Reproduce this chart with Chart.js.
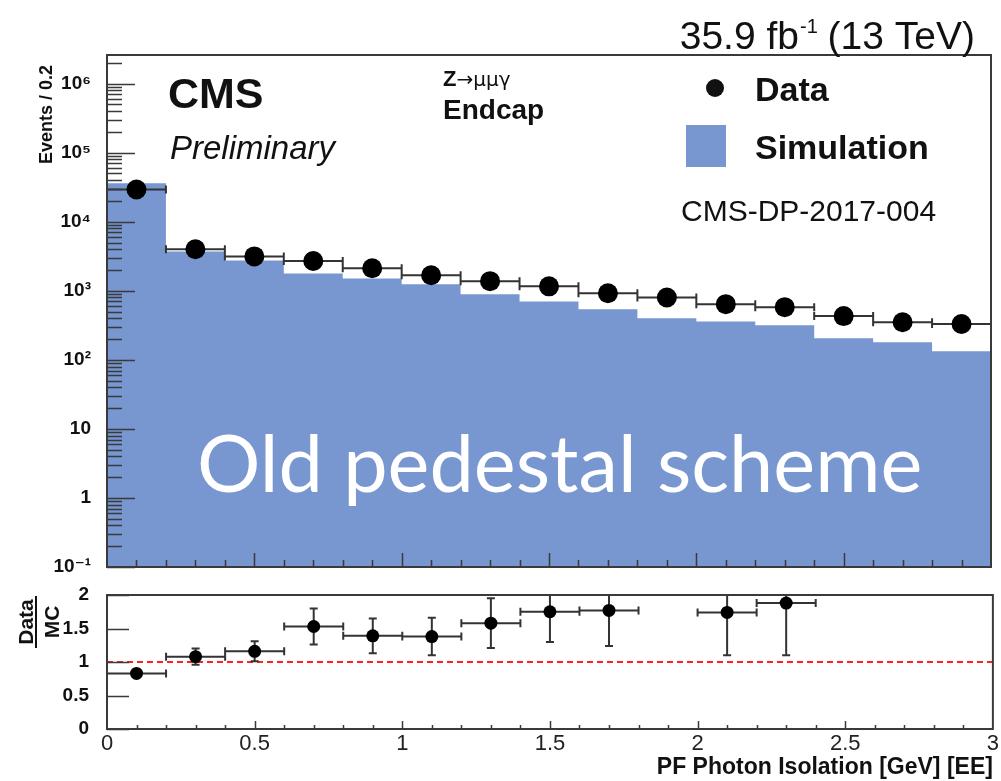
<!DOCTYPE html>
<html>
<head>
<meta charset="utf-8">
<script src="https://cdn.jsdelivr.net/npm/chart.js@4.4.1/dist/chart.umd.min.js"></script>
<style>
  html, body { margin: 0; padding: 0; background: #fff; }
  #wrap { position: relative; width: 1001px; height: 781px; overflow: hidden; }
  #wrap canvas { position: absolute; left: 0; top: 0; }
</style>
</head>
<body>
<div id="wrap">
  <canvas id="mainPanel" width="1001" height="781"></canvas>
  <canvas id="ratioPanel" width="1001" height="781"></canvas>
</div>
<script>
// PF photon isolation, Z->mumugamma, endcap, 0.2 GeV bins
const binEdges = [0, 0.2, 0.4, 0.6, 0.8, 1.0, 1.2, 1.4, 1.6, 1.8, 2.0, 2.2, 2.4, 2.6, 2.8, 3.0];
const binCenters = [0.1, 0.3, 0.5, 0.7, 0.9, 1.1, 1.3, 1.5, 1.7, 1.9, 2.1, 2.3, 2.5, 2.7, 2.9];
const simEvents = [36000, 3700, 2750, 1780, 1510, 1240, 890, 700, 540, 400, 360, 316, 205, 180, 133];
const dataEvents = [29300, 4000, 3150, 2700, 2120, 1680, 1380, 1160, 920, 800, 640, 580, 430, 350, 330];
// Data/MC, null where the ratio is off scale
const ratioValues = [0.83, 1.08, 1.16, 1.53, 1.39, 1.38, 1.58, 1.75, 1.77, null, 1.74, 1.88, null, null, null];
const ratioErrors = [0.04, 0.12, 0.15, 0.27, 0.26, 0.28, 0.37, 0.45, 0.53, null, 0.64, 0.78, null, null, null];
const logTickValues = [1e6, 1e5, 1e4, 1e3, 100, 10, 1, 0.1];
const ratioTickValues = [0, 0.5, 1, 1.5, 2];

const SANS = '"Liberation Sans", Arial, "DejaVu Sans", sans-serif';
const simColor = '#7896d0';
const frameColor = '#3a3a3a';
const SUP = { '-': '\u207b', '0': '\u2070', '1': '\u00b9', '2': '\u00b2', '3': '\u00b3', '4': '\u2074', '5': '\u2075', '6': '\u2076' };

function logLabel(v) {
    const e = Math.round(Math.log10(v));
    if (e === 0) return '1';
    if (e === 1) return '10';
    return '10' + String(e).split('').map(c => SUP[c]).join('');
}

// ROOT style inner ticks
function logTicks() {
    const out = [];
    for (let e = -1; e <= 6; e++) {
        const d = Math.pow(10, e);
        out.push({ v: d, len: 28 });
        for (let k = 2; k <= 9; k++) {
            if (k * d < 2.6e6) out.push({ v: k * d, len: 15 });
        }
    }
    return out;
}

function axisTicks(major, minor) {
    const out = [];
    for (let i = 1; i < 30; i++) out.push({ v: i / 10, len: i % 5 === 0 ? major : minor });
    return out;
}

const panelFrame = {
    id: 'panelFrame',
    afterDraw(chart, args, opts) {
        const { ctx, chartArea: a, scales } = chart;
        ctx.save();
        ctx.strokeStyle = frameColor;
        ctx.lineWidth = 1.5;
        ctx.beginPath();
        opts.yTicks.forEach(t => {
            const y = Math.round(scales.y.getPixelForValue(t.v)) + 0.5;
            ctx.moveTo(a.left, y);
            ctx.lineTo(a.left + t.len, y);
        });
        opts.xTicks.forEach(t => {
            const x = Math.round(scales.x.getPixelForValue(t.v)) + 0.5;
            ctx.moveTo(x, a.bottom);
            ctx.lineTo(x, a.bottom - t.len);
        });
        ctx.stroke();
        ctx.lineWidth = 2;
        ctx.strokeRect(a.left, a.top, a.right - a.left, a.bottom - a.top);
        ctx.restore();
    }
};

const binErrors = {
    id: 'binErrors',
    beforeDatasetDraw(chart, args, opts) {
        if (args.index !== 0) return;
        const { ctx, chartArea: a, scales } = chart;
        ctx.save();
        ctx.beginPath();
        ctx.rect(a.left, a.top, a.right - a.left, a.bottom - a.top);
        ctx.clip();
        ctx.strokeStyle = '#333';
        ctx.lineWidth = 2;
        ctx.beginPath();
        opts.bars.forEach(b => {
            const y = scales.y.getPixelForValue(b.y);
            const x0 = scales.x.getPixelForValue(b.x - 0.1);
            const x1 = scales.x.getPixelForValue(b.x + 0.1);
            ctx.moveTo(x0, y); ctx.lineTo(x1, y);
            ctx.moveTo(x0, y - 4); ctx.lineTo(x0, y + 4);
            ctx.moveTo(x1, y - 4); ctx.lineTo(x1, y + 4);
            if (b.err) {
                const x = scales.x.getPixelForValue(b.x);
                const yt = scales.y.getPixelForValue(b.y + b.err);
                const yb = scales.y.getPixelForValue(b.y - b.err);
                ctx.moveTo(x, yt); ctx.lineTo(x, yb);
                ctx.moveTo(x - 4, yt); ctx.lineTo(x + 4, yt);
                ctx.moveTo(x - 4, yb); ctx.lineTo(x + 4, yb);
            }
        });
        ctx.stroke();
        ctx.restore();
    }
};

const cmsLabels = {
    id: 'cmsLabels',
    afterDraw(chart) {
        const ctx = chart.ctx;
        ctx.save();
        ctx.fillStyle = '#111';
        ctx.textBaseline = 'alphabetic';

        // luminosity label, right aligned
        const lumiA = '35.9 fb', lumiB = '-1', lumiC = ' (13 TeV)';
        ctx.font = '39px ' + SANS;
        const wA = ctx.measureText(lumiA).width, wC = ctx.measureText(lumiC).width;
        ctx.font = '20px ' + SANS;
        const wB = ctx.measureText(lumiB).width;
        let x = 975 - (wA + wB + wC);
        ctx.font = '39px ' + SANS;
        ctx.fillText(lumiA, x, 49);
        ctx.font = '20px ' + SANS;
        ctx.fillText(lumiB, x + wA + 1, 33);
        ctx.font = '39px ' + SANS;
        ctx.fillText(lumiC, x + wA + wB, 49);

        ctx.font = 'bold 43px ' + SANS;
        ctx.fillText('CMS', 168, 108);
        ctx.font = 'italic 33px ' + SANS;
        ctx.fillText('Preliminary', 170, 159);

        ctx.font = 'bold 22px ' + SANS;
        ctx.fillText('Z', 443, 86);
        const zw = ctx.measureText('Z').width;
        ctx.font = '20px "DejaVu Sans", ' + SANS;
        ctx.fillText('\u2192\u03bc\u03bc\u03b3', 443 + zw, 86);
        ctx.font = 'bold 28px ' + SANS;
        ctx.fillText('Endcap', 443, 119);

        // legend
        ctx.beginPath();
        ctx.arc(715, 88, 9, 0, Math.PI * 2);
        ctx.fill();
        ctx.fillStyle = simColor;
        ctx.fillRect(686, 125, 40, 42);
        ctx.fillStyle = '#111';
        ctx.font = 'bold 34px ' + SANS;
        ctx.fillText('Data', 755, 101);
        ctx.fillText('Simulation', 755, 159);

        ctx.font = '30px ' + SANS;
        ctx.fillText('CMS-DP-2017-004', 681, 221);

        // y axis title
        ctx.save();
        ctx.translate(52, 65);
        ctx.rotate(-Math.PI / 2);
        ctx.textAlign = 'right';
        ctx.font = 'bold 18px ' + SANS;
        ctx.fillText('Events / 0.2', 0, 0);
        ctx.restore();

        // scheme label across the histogram
        const label = 'Old pedestal scheme';
        ctx.font = '100px Lato, "Open Sans", sans-serif';
        const size = 100 * 725 / ctx.measureText(label).width;
        ctx.font = size.toFixed(1) + 'px Lato, "Open Sans", sans-serif';
        ctx.fillStyle = '#ffffff';
        ctx.fillText(label, 197, 492);
        ctx.restore();
    }
};

const ratioTitle = {
    id: 'ratioTitle',
    afterDraw(chart) {
        const ctx = chart.ctx;
        ctx.save();
        ctx.translate(36, 622);
        ctx.rotate(-Math.PI / 2);
        ctx.fillStyle = '#111';
        ctx.strokeStyle = '#111';
        ctx.font = 'bold 21px ' + SANS;
        ctx.textAlign = 'center';
        ctx.fillText('Data', 0, -3);
        ctx.fillText('MC', 0, 23);
        ctx.lineWidth = 2;
        ctx.beginPath();
        ctx.moveTo(-26, 0); ctx.lineTo(26, 0);
        ctx.stroke();
        ctx.restore();
    }
};

const histPoints = binEdges.map((x, i) => ({ x, y: simEvents[Math.min(i, simEvents.length - 1)] }));
const dataPoints = binCenters.map((x, i) => ({ x, y: dataEvents[i] }));
const ratioPoints = binCenters.map((x, i) => ({ x, y: ratioValues[i], err: ratioErrors[i] })).filter(p => p.y !== null);

new Chart(document.getElementById('mainPanel'), {
    type: 'scatter',
    data: {
        datasets: [
            {
                label: 'Data',
                data: dataPoints,
                pointRadius: 10,
                pointBackgroundColor: '#000',
                pointBorderWidth: 0
            },
            {
                type: 'line',
                label: 'Simulation',
                data: histPoints,
                stepped: 'before',
                fill: 'start',
                backgroundColor: simColor,
                borderWidth: 0,
                borderColor: simColor,
                pointRadius: 0
            }
        ]
    },
    options: {
        responsive: false,
        animation: false,
        layout: { padding: { left: 0, top: 55, right: 2, bottom: 214 } },
        plugins: {
            legend: { display: false },
            tooltip: { enabled: false },
            panelFrame: { yTicks: logTicks(), xTicks: axisTicks(14, 7) },
            binErrors: { bars: dataPoints }
        },
        scales: {
            x: { type: 'linear', min: 0, max: 3, display: false },
            y: {
                type: 'logarithmic',
                min: 0.1,
                max: 2.6e6,
                afterFit: s => { s.width = 107; },
                afterBuildTicks: s => { s.ticks = logTickValues.map(v => ({ value: v })); },
                grid: { display: false },
                border: { display: false },
                ticks: {
                    autoSkip: false,
                    padding: 8,
                    color: '#111',
                    font: { family: SANS, size: 19, weight: 'bold' },
                    callback: v => logLabel(v)
                }
            }
        }
    },
    plugins: [panelFrame, binErrors, cmsLabels]
});

new Chart(document.getElementById('ratioPanel'), {
    type: 'scatter',
    data: {
        datasets: [
            {
                label: 'Data/MC',
                data: ratioPoints,
                pointRadius: 6.5,
                pointBackgroundColor: '#000',
                pointBorderWidth: 0
            },
            {
                type: 'line',
                label: 'unity',
                data: [{ x: 0, y: 1 }, { x: 3, y: 1 }],
                borderColor: '#ff2020',
                borderWidth: 2,
                borderDash: [6, 4],
                pointRadius: 0,
                fill: false
            }
        ]
    },
    options: {
        responsive: false,
        animation: false,
        layout: { padding: { left: 0, top: 595, right: 2, bottom: 0 } },
        plugins: {
            legend: { display: false },
            tooltip: { enabled: false },
            panelFrame: {
                yTicks: ratioTickValues.map(v => ({ v, len: 22 })),
                xTicks: axisTicks(8, 4)
            },
            binErrors: { bars: ratioPoints }
        },
        scales: {
            x: {
                type: 'linear',
                min: 0,
                max: 3,
                afterFit: s => { s.height = 52; },
                grid: { display: false, drawTicks: false },
                border: { display: false },
                ticks: {
                    stepSize: 0.5,
                    autoSkip: false,
                    maxRotation: 0,
                    padding: 2,
                    color: '#222',
                    font: { family: SANS, size: 22 },
                    callback: v => String(v)
                },
                title: {
                    display: true,
                    text: 'PF Photon Isolation [GeV] [EE]',
                    align: 'end',
                    color: '#111',
                    padding: 0,
                    font: { family: SANS, size: 23, weight: 'bold' }
                }
            },
            y: {
                min: 0,
                max: 2,
                afterFit: s => { s.width = 107; },
                afterBuildTicks: s => { s.ticks = ratioTickValues.map(v => ({ value: v })); },
                grid: { display: false },
                border: { display: false },
                ticks: {
                    autoSkip: false,
                    padding: 10,
                    color: '#111',
                    font: { family: SANS, size: 19, weight: 'bold' },
                    callback: v => String(v)
                }
            }
        }
    },
    plugins: [panelFrame, binErrors, ratioTitle]
});
</script>
</body>
</html>
